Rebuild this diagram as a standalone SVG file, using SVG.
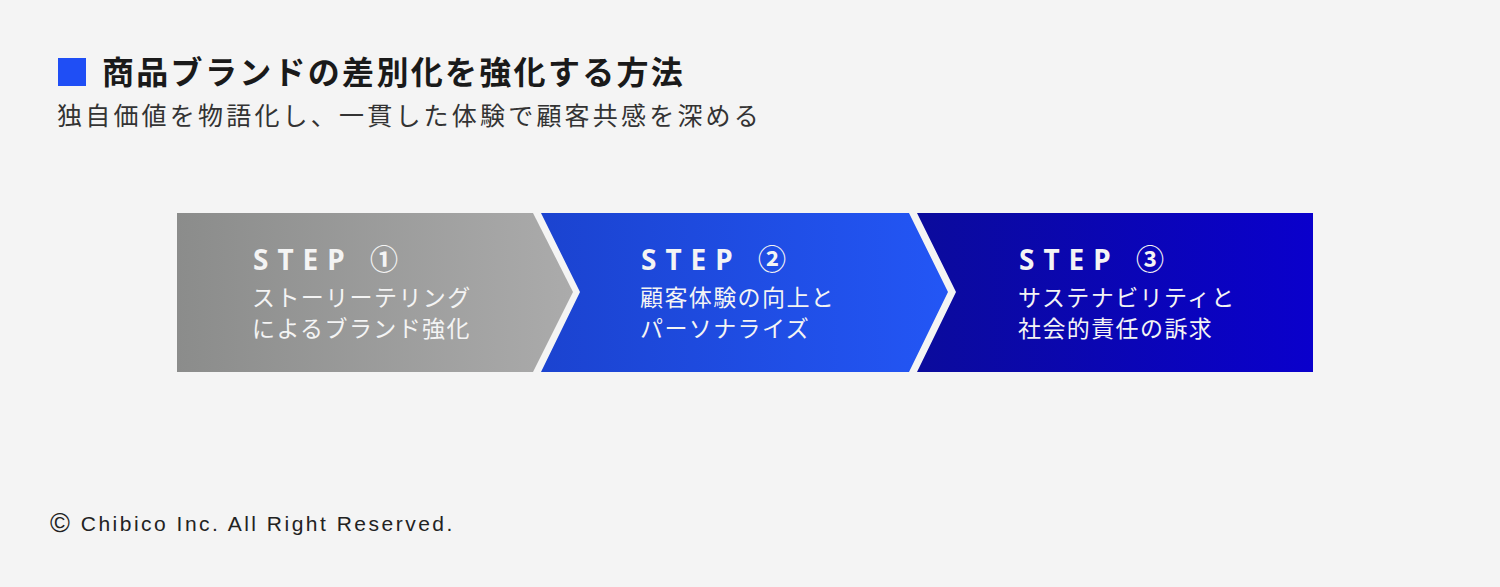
<svg xmlns="http://www.w3.org/2000/svg" width="1500" height="587" viewBox="0 0 1500 587">
<defs>
<linearGradient id="g1" x1="0" y1="0" x2="1" y2="0"><stop offset="0" stop-color="#8b8c8b"/><stop offset="1" stop-color="#ababab"/></linearGradient>
<linearGradient id="g2" x1="0" y1="0" x2="1" y2="0"><stop offset="0" stop-color="#1b43d0"/><stop offset="1" stop-color="#2356f5"/></linearGradient>
<linearGradient id="g3" x1="0" y1="0" x2="1" y2="0"><stop offset="0" stop-color="#0b0b9c"/><stop offset="1" stop-color="#0a00cc"/></linearGradient>
<style>
.jp{font-family:"Noto Sans CJK JP","Noto Sans",sans-serif}
.title{font-size:32px;font-weight:bold;fill:#1a1a1a;letter-spacing:2.3px}
.sub{font-size:25px;fill:#333;letter-spacing:3.2px}
.step{font-family:"Noto Sans","Noto Sans CJK JP",sans-serif;font-size:28px;font-weight:bold;fill:#f4f4f4;letter-spacing:9px}
.lbl{font-size:23px;fill:#f4f4f4;letter-spacing:1.4px}
.foot{font-family:"Liberation Sans",Arial,sans-serif;font-size:21px;fill:#222;letter-spacing:2.5px}
</style>
</defs>
<rect width="1500" height="587" fill="#f4f4f4"/>
<g id="header">
<rect x="58" y="58" width="28" height="28" fill="#1f4ef5"/>
<text class="jp title" x="102" y="84">商品ブランドの差別化を強化する方法</text>
<text class="jp sub" x="57" y="125">独自価値を物語化し、一貫した体験で顧客共感を深める</text>
</g>
<g id="connectors"></g>
<g id="step1">
<polygon points="177,213 533,213 573,292 533,372 177,372" fill="url(#g1)"/>
<text class="step" x="253" y="270">STEP ①</text>
<text class="jp lbl" x="252" y="306">ストーリーテリング</text>
<text class="jp lbl" x="252" y="337">によるブランド強化</text>
</g>
<g id="step2">
<polygon points="541,213 909,213 948,292 909,372 541,372 580,292" fill="url(#g2)"/>
<text class="step" x="641" y="270">STEP ②</text>
<text class="jp lbl" x="640" y="306">顧客体験の向上と</text>
<text class="jp lbl" x="640" y="337">パーソナライズ</text>
</g>
<g id="step3">
<polygon points="917,213 1313,213 1313,372 917,372 956,292" fill="url(#g3)"/>
<text class="step" x="1019" y="270">STEP ③</text>
<text class="jp lbl" x="1018" y="306">サステナビリティと</text>
<text class="jp lbl" x="1018" y="337">社会的責任の訴求</text>
</g>
<g id="footer">
<text class="foot" x="50" y="531"><tspan font-size="27" dy="1">©</tspan><tspan dy="-1"> Chibico Inc. All Right Reserved.</tspan></text>
</g>
</svg>
